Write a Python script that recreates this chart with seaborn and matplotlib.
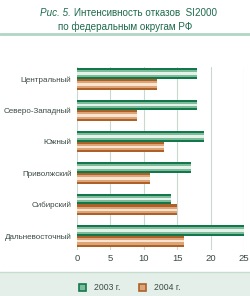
import matplotlib
matplotlib.use("Agg")
import matplotlib.pyplot as plt
import matplotlib.patches as mpatches
from matplotlib.lines import Line2D
from matplotlib import font_manager
import seaborn as sns
import pandas as pd

regions = ["Центральный", "Северо-Западный", "Южный", "Приволжский", "Сибирский", "Дальневосточный"]
values_2003 = [18, 18, 19, 17, 14, 25]
values_2004 = [12, 9, 13, 11, 15, 16]
series_names = ["2003 г.", "2004 г."]
x_ticks = [0, 5, 10, 15, 20, 25]
title_prefix = "Рис. 5."
title_line1 = "Интенсивность отказов  SI2000"
title_line2 = "по федеральным округам РФ"

df = pd.DataFrame({
    "region": regions * 2,
    "value": values_2003 + values_2004,
    "year": [series_names[0]] * len(regions) + [series_names[1]] * len(regions),
})

sns.set_style("white")
names = {f.name for f in font_manager.fontManager.ttflist}
narrow = "Liberation Sans Narrow" in names
if narrow:
    plt.rcParams["font.family"] = ["Liberation Sans Narrow", "DejaVu Sans"]
    ylab_size, leg_size, title_size = 7.0, 7.0, 8.0
else:
    plt.rcParams["font.family"] = ["Liberation Sans", "DejaVu Sans"]
    ylab_size, leg_size, title_size = 5.8, 6.2, 7.1

dark = {"2003 г.": "#12784c", "2004 г.": "#ad6128"}
mid = {"2003 г.": "#7dbb9a", "2004 г.": "#dca577"}
light = {"2003 г.": "#e4f2ea", "2004 г.": "#f8e4d0"}
title_color = "#1d6a4c"
text_color = "#3a4a42"

fig = plt.figure(figsize=(2.5, 2.96), dpi=100)
ax = fig.add_axes([77 / 250, (296 - 250) / 296, (244 - 77) / 250, (250 - 67) / 296])

sns.barplot(data=df, x="value", y="region", hue="year", orient="h",
            palette=dark, width=0.68, dodge=True, ax=ax, legend=False,
            saturation=1, linewidth=0, gap=0)

# stripe overlays derived from each bar patch
bars = [p for p in ax.patches if isinstance(p, mpatches.Rectangle)]
for i, p in enumerate(list(bars)):
    year = series_names[0] if i < len(regions) else series_names[1]
    x0, y0, w, h = p.get_x(), p.get_y(), p.get_width(), p.get_height()
    if w <= 0:
        continue
    for frac, col in ((0.62, mid[year]), (0.24, light[year])):
        hh = h * frac
        ax.add_patch(mpatches.Rectangle((x0, y0 + (h - hh) / 2), w, hh,
                                        facecolor=col, edgecolor="none", zorder=p.get_zorder() + 0.1))

ax.set_xlim(0, 25)
ax.set_ylim(5.45, -0.38)
ax.set_xticks(x_ticks)
ax.set_xticklabels([str(t) for t in x_ticks], fontsize=6.8, color=text_color)
ax.tick_params(axis="y", labelsize=ylab_size, labelcolor=text_color, length=0, pad=4)
ax.tick_params(axis="x", length=0, pad=3)
ax.set_xlabel("")
ax.set_ylabel("")
ax.xaxis.grid(True, color="#c9d9cf", linewidth=0.8)
ax.set_axisbelow(True)
for s in ax.spines.values():
    s.set_visible(False)

# title
t1 = fig.text(40 / 250, (296 - 13) / 296, title_prefix + " ", ha="left", va="center",
              fontsize=title_size, color=title_color, style="italic")
ax.annotate(title_line1, xy=(1, 0.5), xycoords=t1, ha="left", va="center",
            fontsize=title_size, color=title_color, annotation_clip=False)
fig.text(0.5, (296 - 27) / 296, title_line2, ha="center", va="center",
         fontsize=title_size, color=title_color)
fig.add_artist(Line2D([0, 1], [(296 - 34) / 296] * 2, color="#b3d5c4", linewidth=2,
                      transform=fig.transFigure))

# legend band
fig.add_artist(mpatches.Rectangle((0, 0), 1, (296 - 272) / 296, transform=fig.transFigure,
                                  facecolor="#e3efe8", edgecolor="none", zorder=0))
fig.add_artist(Line2D([0, 1], [(296 - 272) / 296] * 2, color="#c5dccf", linewidth=1,
                      transform=fig.transFigure))

handles = []
for name in series_names:
    handles.append(mpatches.Patch(facecolor=mid[name], edgecolor=dark[name], linewidth=1.2))
leg = fig.legend(handles, series_names, loc="center", bbox_to_anchor=(0.52, (296 - 288) / 296),
                 ncol=2, frameon=False, fontsize=leg_size, handlelength=0.8, handleheight=0.8,
                 columnspacing=2.2, handletextpad=0.9, labelcolor=text_color)

fig.savefig("out.png", dpi=100)
